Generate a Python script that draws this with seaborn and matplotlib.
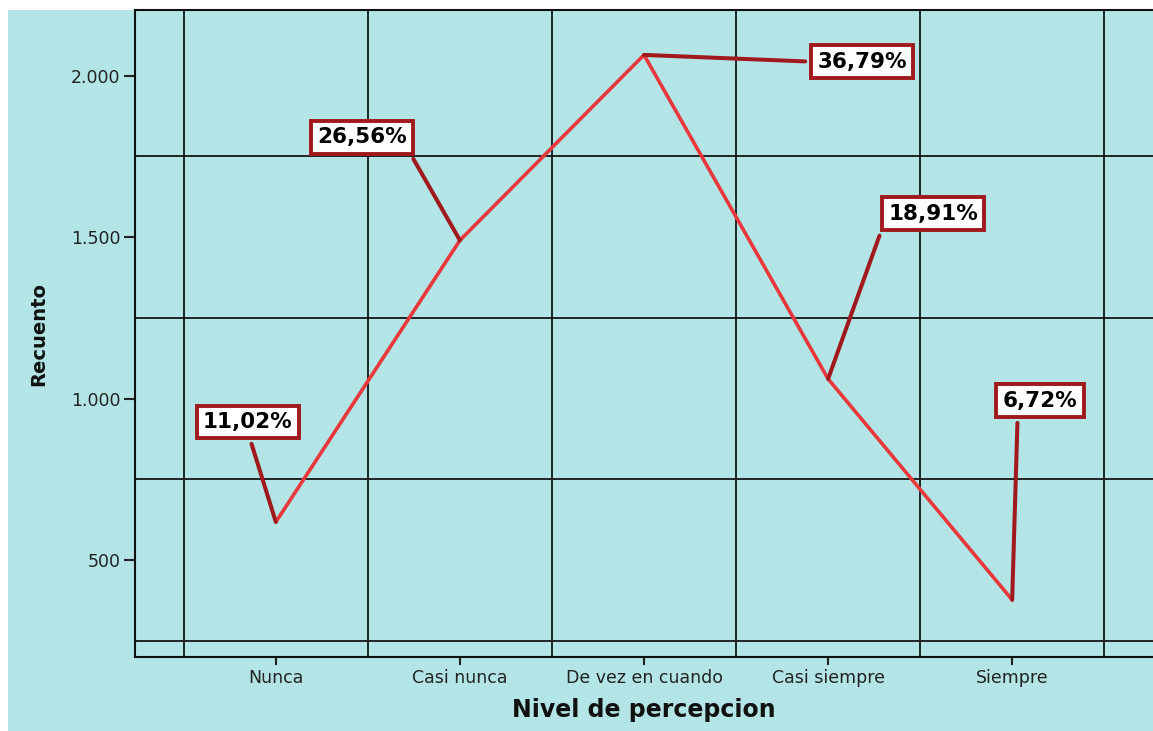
import matplotlib
matplotlib.use("Agg")
import matplotlib.pyplot as plt
import matplotlib.patches as mpatches
from matplotlib.ticker import FixedLocator
import numpy as np
import pandas as pd
import seaborn as sns

# Data
categorias = ["Nunca", "Casi nunca", "De vez en cuando", "Casi siempre", "Siempre"]
recuento = [618, 1490, 2064, 1061, 377]
yticks = [500, 1000, 1500, 2000]
ytick_labels = ["500", "1.000", "1.500", "2.000"]
yguides = [250, 750, 1250, 1750]

# Callout placement: box offset from its point (pixels) and leader anchor on the text
offsets = [(-28, 100), (-98, 103), (218, -7), (105, 165), (28, 199)]
anchors = [(0.5, 0.0), (1.0, 0.0), (0.0, 0.5), (-0.05, 0.0), (0.2, 0.0)]

total = sum(recuento)
porcentajes = [100 * v / total for v in recuento]
etiquetas = [f"{p:.2f}%".replace(".", ",") for p in porcentajes]

CIAN = "#b3e5e6"
ROJO = "#e8383b"
GRANATE = "#a0191d"

sns.set_theme(style="ticks")
plt.rcParams["font.family"] = ["DejaVu Sans"]

W, H = 1153, 731
fig = plt.figure(figsize=(W / 100, H / 100), dpi=100)
fig.patch.set_facecolor("white")
fig.patches.append(mpatches.Rectangle((8 / W, 0), 1, (H - 10) / H,
                                      transform=fig.transFigure,
                                      facecolor=CIAN, edgecolor="none", zorder=-10))

ax = fig.add_axes([135 / W, (H - 657) / H, (W - 135) / W, 647 / H])
ax.set_facecolor(CIAN)

df = pd.DataFrame({"Nivel de percepcion": categorias, "Recuento": recuento})
sns.lineplot(data=df, x="Nivel de percepcion", y="Recuento", sort=False,
             color=ROJO, linewidth=2.6, ax=ax, zorder=3)

for i, (v, txt, off, rel) in enumerate(zip(recuento, etiquetas, offsets, anchors)):
    ax.annotate(txt, xy=(i, v), xytext=off, textcoords="offset pixels",
                ha="center", va="center", fontsize=15.5, fontweight="bold",
                color="black",
                bbox=dict(boxstyle="square,pad=0.3", fc="white", ec=GRANATE, lw=2.8),
                arrowprops=dict(arrowstyle="-", color=GRANATE, lw=2.9,
                                relpos=rel, shrinkA=3, shrinkB=0),
                zorder=5)

ax.set_xlim(-0.765, 4.765)
ax.set_ylim(200, 2203)
ax.set_yticks(yticks)
ax.set_yticklabels(ytick_labels)
ax.yaxis.set_minor_locator(FixedLocator(yguides))
ax.xaxis.set_minor_locator(FixedLocator(np.arange(len(categorias) + 1) - 0.5))
ax.grid(False)
ax.grid(which="minor", color="#151515", linewidth=1.3)
ax.tick_params(which="minor", length=0)
ax.tick_params(axis="y", which="major", length=8, width=1.5, pad=2.5,
               labelsize=12.5, colors="#222222")
ax.tick_params(axis="x", which="major", length=6, width=1.5, pad=2.5,
               labelsize=12.5, colors="#222222")

for side in ["left", "bottom", "top"]:
    ax.spines[side].set_color("#111111")
    ax.spines[side].set_linewidth(1.5)
ax.spines["right"].set_visible(False)

ax.set_xlabel("Nivel de percepcion", fontsize=17, fontweight="bold",
              labelpad=8, color="#111111")
ax.set_ylabel("Recuento", fontsize=14, fontweight="bold",
              labelpad=16, color="#111111")

fig.savefig("out.png", dpi=100)
